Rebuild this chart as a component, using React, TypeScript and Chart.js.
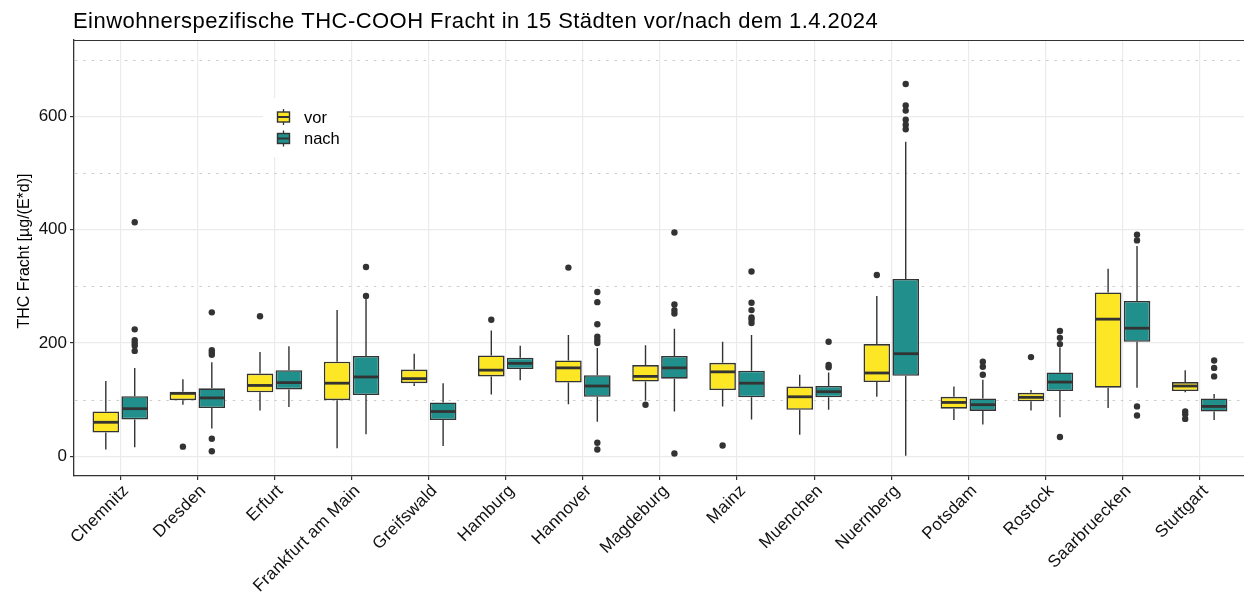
import React, { useEffect, useRef } from "react";
import { Chart, registerables } from "chart.js";
Chart.register(...registerables);

const FONT = '"Liberation Sans", Arial, Helvetica, sans-serif';

const TITLE = "Einwohnerspezifische THC-COOH Fracht in 15 Städten vor/nach dem 1.4.2024";
const Y_TITLE = "THC Fracht [µg/(E*d)]";
const SERIES = ["vor", "nach"];
const COLORS = ["#FDE725", "#21908C"];

const cities = [
  "Chemnitz", "Dresden", "Erfurt", "Frankfurt am Main", "Greifswald", "Hamburg", "Hannover",
  "Magdeburg", "Mainz", "Muenchen", "Nuernberg", "Potsdam", "Rostock", "Saarbruecken", "Stuttgart",
];

const yTicks = [0, 200, 400, 600];
const yMinorTicks = [100, 300, 500, 700];

// "vor" series
const vorMin = [12, 91, 81, 14, 124, 109, 92, 98, 88, 38, 105, 64, 81, 85, 113];
const vorQ1 = [42, 99, 113, 99, 129, 141, 130, 132, 117, 82, 131, 84, 97, 121, 115];
const vorMedian = [60, 111, 125, 129, 137, 152, 156, 141, 149, 105, 147, 95, 104, 242, 124];
const vorQ3 = [79, 114, 146, 167, 153, 178, 169, 161, 165, 123, 198, 105, 112, 289, 131];
const vorMax = [133, 136, 184, 258, 181, 222, 214, 196, 202, 144, 283, 123, 117, 331, 152];
const vorOutliers = [
  [], [17], [247], [], [], [241], [333], [91], [19], [], [320], [], [175], [], [79, 74, 66],
];

// "nach" series
const nachMin = [16, 49, 87, 39, 18, 134, 61, 79, 65, 82, 1, 56, 69, 121, 64];
const nachQ1 = [65, 85, 118, 108, 64, 154, 105, 137, 104, 104, 142, 80, 115, 202, 79];
const nachMedian = [84, 103, 130, 140, 79, 164, 124, 156, 129, 114, 181, 91, 131, 226, 88];
const nachQ3 = [106, 120, 152, 177, 95, 174, 143, 177, 151, 124, 313, 102, 148, 274, 102];
const nachMax = [156, 166, 194, 278, 129, 195, 191, 225, 214, 148, 555, 135, 192, 371, 110];
const nachOutliers = [
  [413, 224, 205, 200, 195, 186],
  [254, 187, 183, 179, 31, 9],
  [],
  [334, 283],
  [],
  [],
  [290, 272, 233, 211, 205, 200, 24, 12],
  [395, 268, 258, 252, 5],
  [326, 271, 258, 245, 241, 235],
  [202, 161, 157],
  [657, 619, 610, 594, 585, 577],
  [167, 158, 144],
  [221, 209, 198, 34],
  [391, 381, 88, 72],
  [169, 156, 141],
];

const stats = [
  { min: vorMin, q1: vorQ1, med: vorMedian, q3: vorQ3, max: vorMax, out: vorOutliers },
  { min: nachMin, q1: nachQ1, med: nachMedian, q3: nachQ3, max: nachMax, out: nachOutliers },
];

const LINE = "#333333";

export default function App() {
  const ref = useRef<HTMLCanvasElement>(null);

  useEffect(() => {
    document.body.style.margin = "0";
    document.body.style.overflow = "hidden";
    const canvas = ref.current;
    if (!canvas) return;

    const boxPlugin = {
      id: "boxplotExtras",
      beforeDatasetsDraw(chart: any) {
        const { ctx, chartArea } = chart;
        const y = chart.scales.y;
        ctx.save();
        ctx.strokeStyle = "#CCCCCC";
        ctx.lineWidth = 1.2;
        ctx.setLineDash([2.5, 5.8]);
        for (const v of yMinorTicks) {
          const py = Math.round(y.getPixelForValue(v)) + 0.5;
          ctx.beginPath();
          ctx.moveTo(chartArea.left + 1, py);
          ctx.lineTo(chartArea.right, py);
          ctx.stroke();
        }
        ctx.restore();
      },
      afterDatasetsDraw(chart: any) {
        const { ctx } = chart;
        const y = chart.scales.y;
        ctx.save();
        stats.forEach((s, di) => {
          const meta = chart.getDatasetMeta(di);
          meta.data.forEach((el: any, i: number) => {
            const x = el.x;
            const w = el.width;
            ctx.strokeStyle = LINE;
            ctx.lineWidth = 1.4;
            ctx.beginPath();
            ctx.moveTo(x, y.getPixelForValue(s.q3[i]));
            ctx.lineTo(x, y.getPixelForValue(s.max[i]));
            ctx.moveTo(x, y.getPixelForValue(s.q1[i]));
            ctx.lineTo(x, y.getPixelForValue(s.min[i]));
            ctx.stroke();
            ctx.lineWidth = 2.8;
            ctx.beginPath();
            const pm = y.getPixelForValue(s.med[i]);
            ctx.moveTo(x - w / 2 + 0.8, pm);
            ctx.lineTo(x + w / 2 - 0.8, pm);
            ctx.stroke();
            ctx.fillStyle = LINE;
            for (const o of s.out[i]) {
              ctx.beginPath();
              ctx.arc(x, y.getPixelForValue(o), 3.2, 0, Math.PI * 2);
              ctx.fill();
            }
          });
        });
        ctx.restore();
      },
      afterDraw(chart: any) {
        const { ctx, chartArea } = chart;
        const xs = chart.scales.x;
        ctx.save();
        ctx.strokeStyle = LINE;
        ctx.lineWidth = 1.2;
        ctx.beginPath();
        ctx.moveTo(chartArea.left, chartArea.top + 0.5);
        ctx.lineTo(chartArea.right, chartArea.top + 0.5);
        ctx.stroke();

        // title
        ctx.fillStyle = "#000000";
        ctx.font = `22px ${FONT}`;
        (ctx as any).letterSpacing = "0.45px";
        ctx.textAlign = "left";
        ctx.textBaseline = "alphabetic";
        ctx.fillText(TITLE, 73, 28);
        (ctx as any).letterSpacing = "0px";

        // y title
        ctx.save();
        ctx.font = `16px ${FONT}`;
        ctx.translate(28.5, 251);
        ctx.rotate(-Math.PI / 2);
        ctx.textAlign = "center";
        ctx.fillText(Y_TITLE, 0, 0);
        ctx.restore();

        // x labels
        ctx.font = `17px ${FONT}`;
        (ctx as any).letterSpacing = "0.3px";
        ctx.fillStyle = "#111111";
        cities.forEach((c, i) => {
          const px = xs.getPixelForValue(i);
          ctx.save();
          ctx.translate(px, chartArea.bottom + 6);
          ctx.rotate(-Math.PI / 4);
          ctx.textAlign = "right";
          ctx.textBaseline = "top";
          ctx.fillText(c, 0, 0);
          ctx.restore();
        });
        (ctx as any).letterSpacing = "0px";

        // legend
        ctx.fillStyle = "#FFFFFF";
        ctx.fillRect(263, 98, 86, 59);
        const rows = [117, 138.5];
        SERIES.forEach((name, k) => {
          const cy = rows[k];
          const bx = 277.5;
          const bw = 12;
          ctx.strokeStyle = LINE;
          ctx.lineWidth = 1.3;
          ctx.beginPath();
          ctx.moveTo(bx + bw / 2, cy - 8);
          ctx.lineTo(bx + bw / 2, cy + 8);
          ctx.stroke();
          ctx.fillStyle = COLORS[k];
          ctx.fillRect(bx, cy - 5, bw, 10);
          ctx.lineWidth = 1.4;
          ctx.strokeRect(bx, cy - 5, bw, 10);
          ctx.lineWidth = 2;
          ctx.beginPath();
          ctx.moveTo(bx, cy);
          ctx.lineTo(bx + bw, cy);
          ctx.stroke();
          ctx.fillStyle = "#000000";
          ctx.font = `16.5px ${FONT}`;
          ctx.textAlign = "left";
          ctx.textBaseline = "middle";
          ctx.fillText(name, 304, cy + 1);
        });
        ctx.restore();
      },
    };

    const chart = new Chart(canvas, {
      type: "bar",
      data: {
        datasets: SERIES.map((name, k) => ({
          label: name,
          data: stats[k].q1.map((v, i) => ({ x: i, y: [v, stats[k].q3[i]] })),
          backgroundColor: COLORS[k],
          borderColor: LINE,
          borderWidth: 1.6,
          borderSkipped: false,
          categoryPercentage: 0.75,
          barPercentage: 0.92,
        })) as any,
      },
      options: {
        responsive: false,
        maintainAspectRatio: false,
        animation: false,
        layout: { padding: { top: 40, left: 0, right: 0, bottom: 0 } },
        plugins: {
          legend: { display: false },
          tooltip: { enabled: false },
          title: { display: false },
        },
        scales: {
          x: {
            type: "linear",
            min: -0.6,
            max: 14.575,
            offset: false,
            bounds: "data",
            afterBuildTicks: (s: any) => {
              s.ticks = cities.map((_, i) => ({ value: i }));
            },
            afterFit: (s: any) => {
              s.height = 118;
            },
            ticks: { display: false },
            grid: {
              offset: false,
              color: "#EBEBEB",
              lineWidth: 1.2,
              tickColor: LINE,
              tickLength: 4,
              drawTicks: true,
            },
            border: { color: LINE, width: 1.3 },
          },
          y: {
            type: "linear",
            min: -34.8,
            max: 734.6,
            bounds: "data",
            afterBuildTicks: (s: any) => {
              s.ticks = yTicks.map((v) => ({ value: v }));
            },
            afterFit: (s: any) => {
              s.width = 74;
            },
            ticks: {
              font: { family: FONT, size: 17 },
              color: "#111111",
              padding: 3,
            },
            grid: {
              color: "#EBEBEB",
              lineWidth: 1.2,
              tickColor: LINE,
              tickLength: 4,
              drawTicks: true,
            },
            border: { color: LINE, width: 1.3 },
          },
        },
      } as any,
      plugins: [boxPlugin],
    });

    return () => chart.destroy();
  }, []);

  return (
    <div style={{ position: "absolute", left: 0, top: 0, width: 1244, height: 594 }}>
      <canvas ref={ref} width={1244} height={594} style={{ display: "block" }} />
    </div>
  );
}
